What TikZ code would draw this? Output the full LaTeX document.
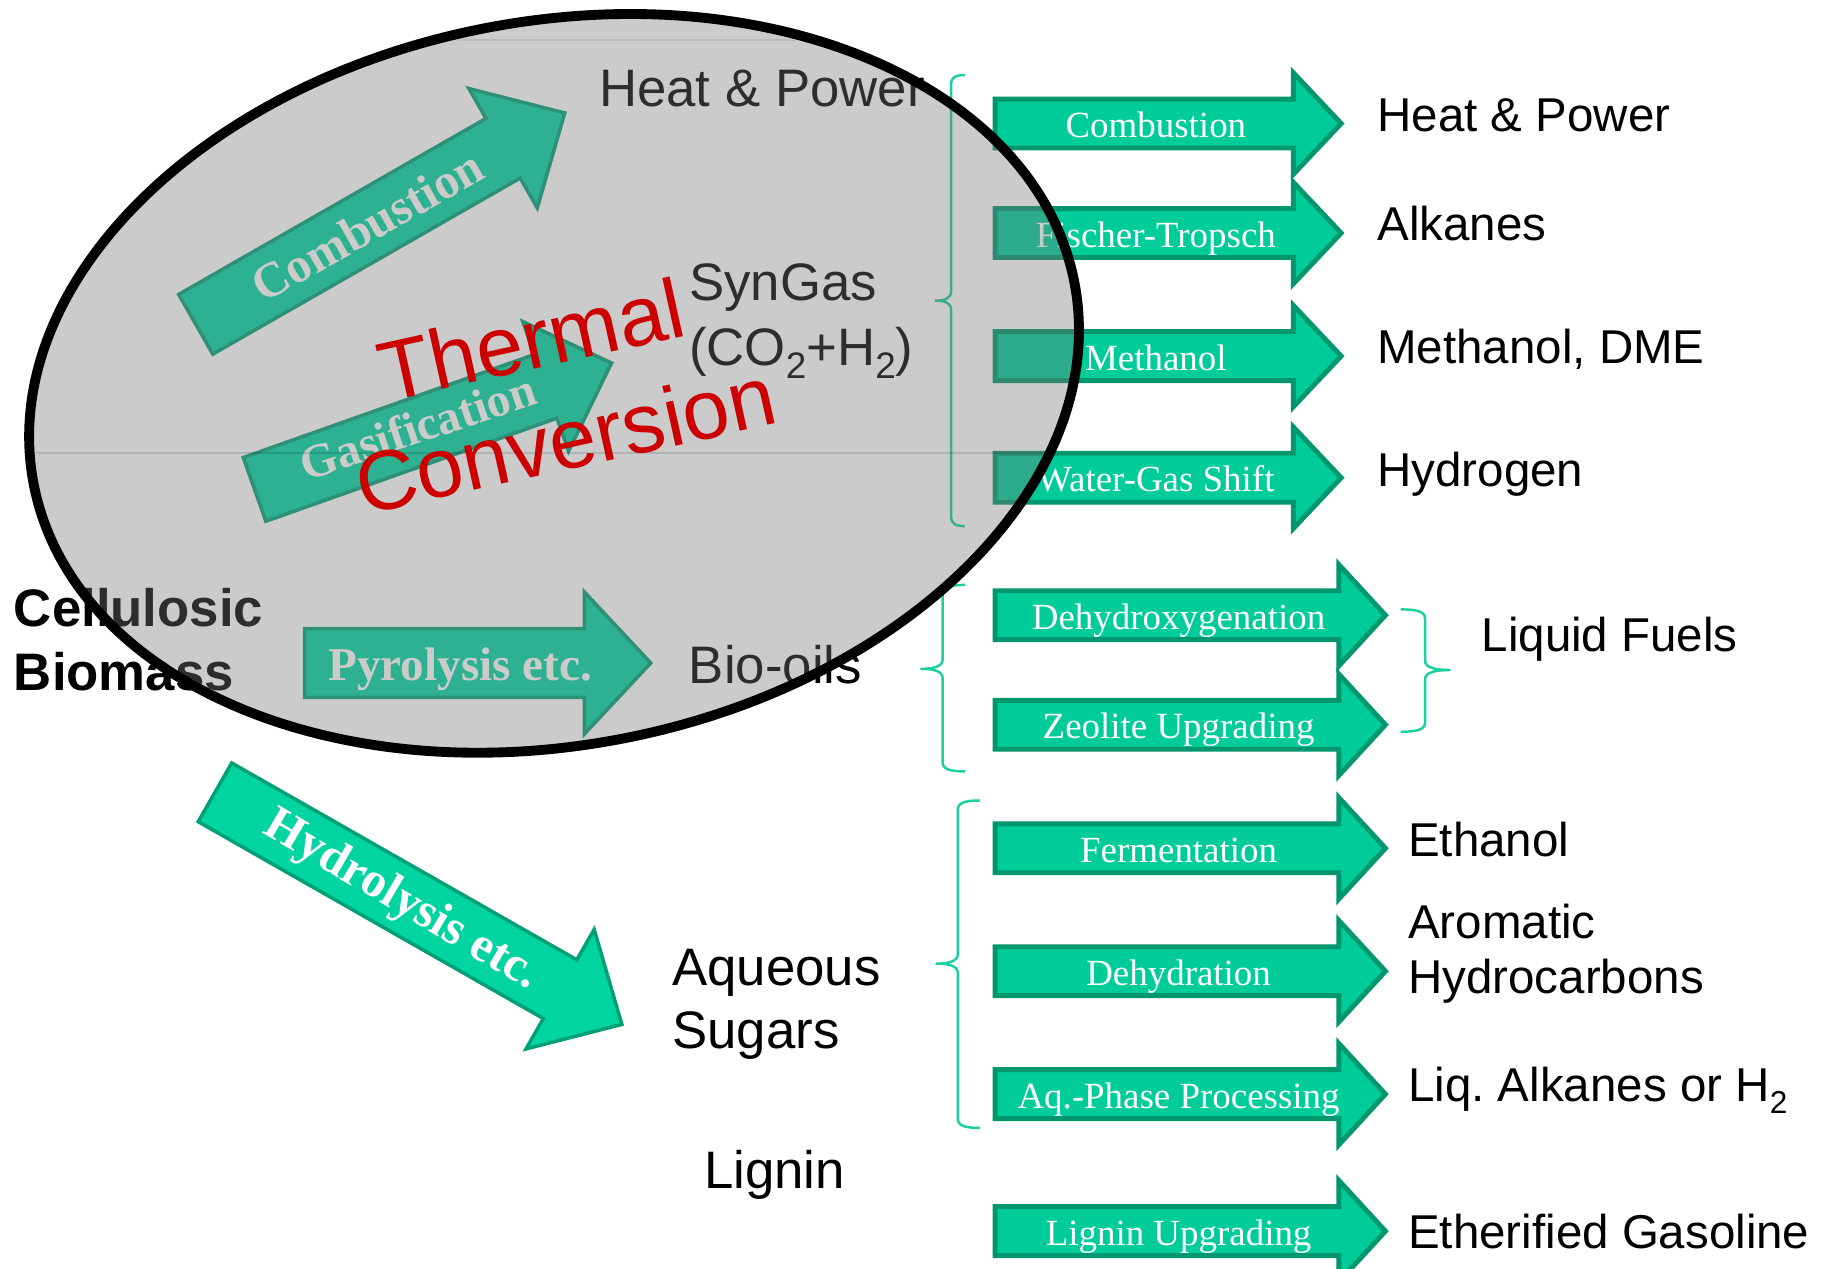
\documentclass[tikz,border=0pt]{standalone}
\usepackage{fontspec}
\setmainfont{Liberation Serif}
\setsansfont{Liberation Sans}
\usetikzlibrary{shapes.geometric}

\definecolor{arrowfill}{HTML}{00CC99}
\definecolor{arrowedge}{HTML}{00966E}
\definecolor{bigfill}{HTML}{00D4A0}
\definecolor{bigedge}{HTML}{00A077}
\definecolor{bracecol}{HTML}{1ACFA0}
\definecolor{hazegray}{RGB}{120,120,120}
\definecolor{thermred}{HTML}{CC0000}

% lowered subscript "2" of a given depth and size
\newcommand{\lowtwo}[2]{\raisebox{-#1}{\fontsize{#2}{#2}\selectfont 2}}

\begin{document}
\begin{tikzpicture}[x=0.01165cm, y=-0.01165cm,
  pics/blockarrow/.style n args={4}{code={
    \path[pic actions] (0,-#2) -- ({#1-#4},-#2) -- ({#1-#4},-#3) -- (#1,0)
      -- ({#1-#4},#3) -- ({#1-#4},#2) -- (0,#2) -- cycle;}},
  pics/curlybrace/.style n args={6}{code={
    \draw[curly] (#1,#4) .. controls ({#2+0.3*(#1-#2)},#4) and (#2,{#4+2}) .. (#2,{#4+8})
      -- (#2,{#5-8}) .. controls (#2,{#5-2}) and ({#2+0.4*(#3-#2)},#5) .. (#3,#5)
      .. controls ({#2+0.4*(#3-#2)},#5) and (#2,{#5+2}) .. (#2,{#5+8})
      -- (#2,{#6-8}) .. controls (#2,{#6-2}) and ({#2+0.3*(#1-#2)},#6) .. (#1,#6);}},
  procarrow/.style={fill=arrowfill, draw=arrowedge, line width=1.4pt, line join=miter},
  routearrow/.style={fill=bigfill, draw=bigedge, line width=1pt, line join=miter},
  proclabel/.style={inner sep=0pt, anchor=base, text=white,
    font=\rmfamily\fontsize{10.5}{12}\selectfont},
  routelabel/.style={inner sep=0pt, text=white,
    font=\rmfamily\bfseries\fontsize{14}{16}\selectfont},
  product/.style={inner sep=0pt, anchor=base west,
    font=\sffamily\fontsize{13.5}{16}\selectfont},
  stage/.style={inner sep=0pt, anchor=base west,
    font=\sffamily\fontsize{15}{18}\selectfont},
  feedstock/.style={stage, font=\sffamily\bfseries\fontsize{15}{18}\selectfont},
  thermaltext/.style={inner sep=0pt, anchor=base, text=thermred,
    font=\sffamily\fontsize{24}{28}\selectfont},
  curly/.style={draw=bracecol, line width=0.7pt},
]

\useasboundingbox (0,0) rectangle (1568,1089);
\clip (0,0) rectangle (1568,1089);
\fill[white] (0,0) rectangle (1568,1089);

% ---------- process arrows towards the products ----------
\pic[procarrow] at (854,106)   {blockarrow={297}{21}{43.5}{41}};
\pic[procarrow] at (854,200)   {blockarrow={297}{21}{43.5}{41}};
\pic[procarrow] at (854,305.6) {blockarrow={297}{21}{43.5}{41}};
\pic[procarrow] at (854,410)   {blockarrow={297}{21}{43.5}{41}};
\pic[procarrow] at (854,528)   {blockarrow={335}{21}{43.5}{40}};
\pic[procarrow] at (854,622)   {blockarrow={335}{21}{43.5}{40}};
\pic[procarrow] at (854,728)   {blockarrow={335}{21}{43.5}{40}};
\pic[procarrow] at (854,833.5) {blockarrow={335}{21}{43.5}{40}};
\pic[procarrow] at (854,939)   {blockarrow={335}{21}{43.5}{40}};
\pic[procarrow] at (854,1056.6){blockarrow={335}{21}{43.5}{40}};

\node[proclabel] (pcomb)  at (992,118)    {Combustion};
\node[proclabel] (pft)    at (992,212)    {Fischer-Tropsch};
\node[proclabel] (pmeth)  at (992,317.6)  {Methanol};
\node[proclabel] (pwgs)   at (992,422)    {Water-Gas Shift};
\node[proclabel] (pdhox)  at (1011.5,540) {Dehydroxygenation};
\node[proclabel] (pzeo)   at (1011.5,634) {Zeolite Upgrading};
\node[proclabel] (pferm)  at (1011.5,740) {Fermentation};
\node[proclabel] (pdehyd) at (1011.5,845.5) {Dehydration};
\node[proclabel] (paq)    at (1011.5,951) {Aq.-Phase Processing};
\node[proclabel] (plig)   at (1011.5,1068.6) {Lignin Upgrading};

% ---------- braces ----------
\pic {curlybrace={828}{816.3}{802.6}{64.4}{258}{451.5}};
\pic {curlybrace={828}{809}{790}{502}{574}{662}};
\pic {curlybrace={1202}{1223}{1245}{523}{575}{628}};
\pic {curlybrace={841}{822}{803}{687}{827}{968}};

% ---------- products ----------
\node[product] (heatright)    at (1181.5,113)   {Heat \& Power};
\node[product] (alkanes)      at (1181.5,206.6) {Alkanes};
\node[product] (methanol)     at (1181.5,312)   {Methanol, DME};
\node[product] (hydrogen)     at (1181.5,417.7) {Hydrogen};
\node[product] (liquidfuels)  at (1271,559)     {Liquid Fuels};
\node[product] (ethanol)      at (1208,735.4)   {Ethanol};
\node[product] (aromatic)     at (1208,805.4)   {Aromatic};
\node[product] (hydrocarbons) at (1208,852.6)   {Hydrocarbons};
\node[product] (liqalkanes)   at (1208,945.6)   {Liq.\ Alkanes or H\lowtwo{3.3pt}{9}};
\node[product] (etherified)   at (1208,1071.5)  {Etherified Gasoline};

% ---------- primary routes from the biomass ----------
\begin{scope}[shift={(168,278.3)}, rotate=29.8]
  \draw[routearrow] (0,-29.5) -- (304,-29.5) -- (304,-59) -- (365,0)
    -- (304,59) -- (304,29.5) -- (0,29.5) -- cycle;
  \node[routelabel, rotate=29.5] (rcomb) at (170,0) {Combustion};
\end{scope}
\begin{scope}[shift={(218.5,420)}, rotate=19.5]
  \draw[routearrow] (0,-29) -- (265,-29) -- (265,-59) -- (325,0)
    -- (265,59) -- (265,29) -- (0,29) -- cycle;
  \node[routelabel, rotate=18.5, font=\rmfamily\bfseries\fontsize{13.5}{16}\selectfont]
    (rgas) at (150,-4) {Gasification};
\end{scope}
\pic[routearrow] at (261.5,569) {blockarrow={297}{29.5}{61}{57}};
\node[routelabel, anchor=base, font=\rmfamily\bfseries\fontsize{13.4}{16}\selectfont]
  (rpyro) at (395,584.2) {Pyrolysis etc.};
\begin{scope}[shift={(184.5,680)}, rotate=-29.7]
  \draw[routearrow] (0,-29) -- (341,-29) -- (341,-59) -- (402,0)
    -- (341,59) -- (341,29) -- (0,29) -- cycle;
  \node[routelabel, rotate=-30.5] (rhydro) at (185,2) {Hydrolysis etc.};
\end{scope}

% ---------- intermediates ----------
\node[stage] (heatleft) at (513.6,91.6)  {Heat \& Power};
\node[stage] (syngas)   at (590.8,257.5) {SynGas};
\node[stage] (syncomp)  at (590.8,313.3) {(CO\lowtwo{3.7pt}{10.5}+H\lowtwo{3.7pt}{10.5})};
\node[stage] (biooils)  at (590.6,586.4) {Bio-oils};
\node[stage] (aqueous)  at (576.5,845.5) {Aqueous};
\node[stage] (sugars)   at (576.5,899.8) {Sugars};
\node[stage] (lignin)   at (603.7,1020)  {Lignin};
\node[feedstock] (cellulosic) at (11.4,538)   {Cellulosic};
\node[feedstock] (biomass)    at (11.4,592.3) {Biomass};

% ---------- thermal conversion zone ----------
\node[ellipse, draw=black, line width=2.8pt, fill=hazegray, fill opacity=0.38,
      minimum width=10.592cm, minimum height=7.230cm, inner sep=0pt, rotate=11]
  (thermalzone) at (475.5,329) {};
\begin{scope}
  \clip[rotate around={11:(475.5,329)}] (475.5,329) ellipse [x radius=449, y radius=305];
  \draw[black, opacity=0.12, line width=0.5pt] (0,388.5) -- (1000,388.5);
  \draw[black, opacity=0.08, line width=0.5pt] (0,34) -- (1000,34);
\end{scope}
\node[thermaltext, rotate=12.5] (thermal)    at (461.4,316.3) {Thermal};
\node[thermaltext, rotate=12.5] (conversion) at (490.6,402.4) {Conversion};

\end{tikzpicture}
\end{document}
